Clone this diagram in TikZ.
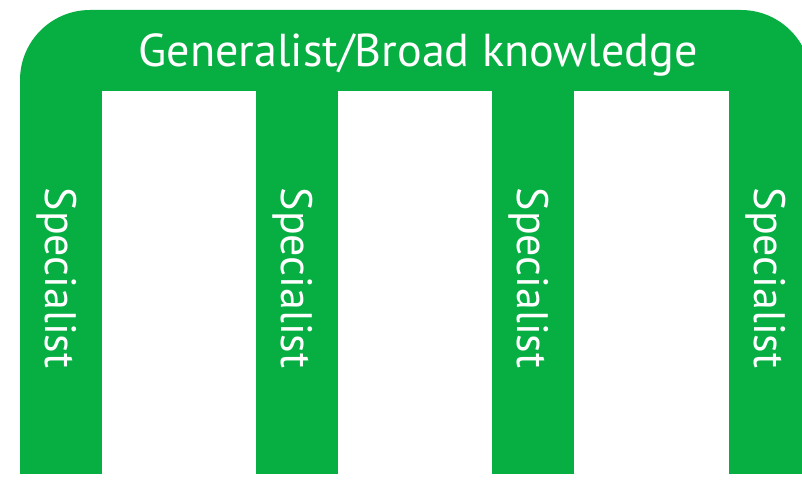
\documentclass[tikz,border=0pt]{standalone}
\usepackage{fontspec}
\setmainfont{PT Sans}
\definecolor{pillargreen}{HTML}{07AF43}
\tikzset{
  pillar/.style={fill=pillargreen},
  header/.style={text=white,inner sep=0pt,font=\fontsize{34.6}{40}\selectfont},
  specialty/.style={text=white,inner sep=0pt,rotate=-90,font=\fontsize{33}{40}\selectfont}
}
\begin{document}
\begin{tikzpicture}[x=0.75pt,y=-0.75pt]
  \useasboundingbox (0,0) rectangle (802,481);
  \clip (0,0) rectangle (802,481);
  % broad bar on top
  \fill[pillar] (20,91) -- (20,80) arc[start angle=180,end angle=90,radius=52.5pt]
    -- (741,10) arc[start angle=90,end angle=0,radius=52.5pt] -- (811,91) -- cycle;
  \node[header,anchor=base] (broad) at (418,67) {Generalist/Broad knowledge};
  % the deep legs
  \foreach \x [count=\i] in {20,256,492,729} {
    \fill[pillar] (\x,90) rectangle ++(82,384);
    \node[specialty,anchor=base] (spec\i) at (\x+25,278) {Specialist};
  }
\end{tikzpicture}
\end{document}
